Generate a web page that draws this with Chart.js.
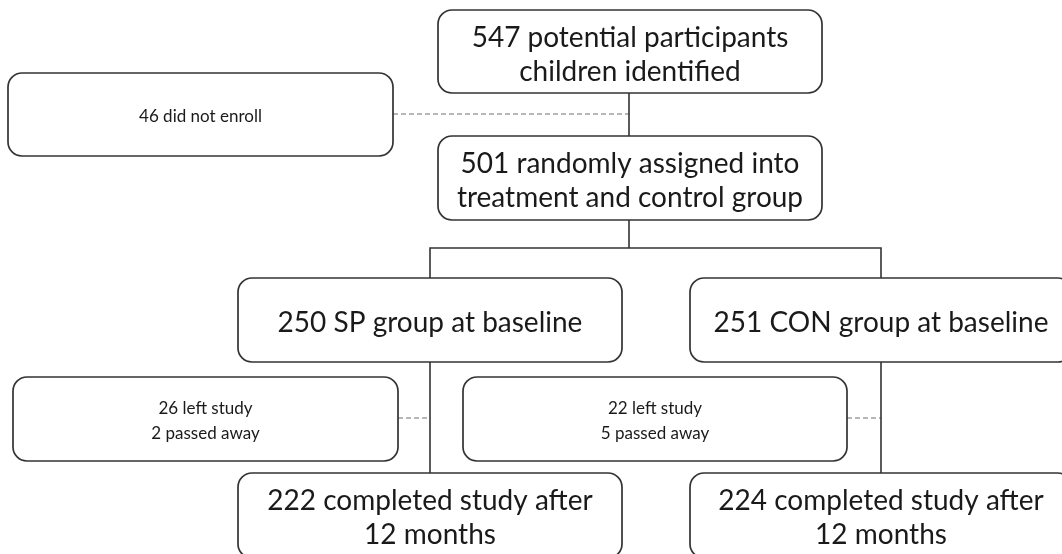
<!DOCTYPE html>
<html>
<head>
<meta charset="utf-8">
<script src="https://cdn.jsdelivr.net/npm/chart.js@4"></script>
<style>
html,body{margin:0;padding:0;background:#fff;}
canvas{display:block;}
</style>
</head>
<body>
<canvas id="c" width="1062" height="554"></canvas>
<script>
// ---- data ----
const stageCounts = [547, 46, 501, 250, 251, 26, 22, 222, 224];
const secondaryCounts = [null, null, null, null, null, 2, 5, null, null];
const boxLines = [
  ["547 potential participants", "children identified"],
  ["46 did not enroll"],
  ["501 randomly assigned into", "treatment and control group"],
  ["250 SP group at baseline"],
  ["251 CON group at baseline"],
  ["26 left study", "2 passed away"],
  ["22 left study", "5 passed away"],
  ["222 completed study after", "12 months"],
  ["224 completed study after", "12 months"]
];
const boxKind = ["main","side","main","main","main","side","side","main","main"];

// ---- layout (diagram coordinates, axis units) ----
const boxRects = [
  [438, 10, 822, 93],
  [8, 73, 393, 156],
  [438, 136, 822, 220],
  [238, 278, 622, 362],
  [690, 278, 1072, 362],
  [13, 377, 398, 461],
  [463, 377, 847, 461],
  [238, 473, 622, 558],
  [690, 473, 1072, 558]
];
const solidLinks = [
  [[629,93],[629,136]],
  [[629,220],[629,248]],
  [[430,278],[430,248],[881,248],[881,278]],
  [[430,362],[430,473]],
  [[881,362],[881,473]]
];
const dashedLinks = [
  [[393,114],[629,114]],
  [[398,418],[430,418]],
  [[847,418],[881,418]]
];

const datasets = [];
solidLinks.forEach(pts => datasets.push({
  type:'line', data: pts.map(p=>({x:p[0], y:p[1]})),
  borderColor:'#333333', borderWidth:1.6, pointRadius:0, fill:false, tension:0
}));
dashedLinks.forEach(pts => datasets.push({
  type:'line', data: pts.map(p=>({x:p[0], y:p[1]})),
  borderColor:'#6f6f6f', borderWidth:1.2, borderDash:[5,3], pointRadius:0, fill:false, tension:0
}));

const boxPlugin = {
  id:'boxes',
  afterDatasetsDraw(chart){
    const ctx = chart.ctx, xs = chart.scales.x, ys = chart.scales.y;
    ctx.save();
    boxRects.forEach((r, i) => {
      const x0 = xs.getPixelForValue(r[0]), x1 = xs.getPixelForValue(r[2]);
      const y0 = ys.getPixelForValue(r[1]), y1 = ys.getPixelForValue(r[3]);
      ctx.beginPath();
      ctx.roundRect(x0, y0, x1-x0, y1-y0, 14);
      ctx.fillStyle = '#ffffff';
      ctx.fill();
      ctx.lineWidth = 1.7;
      ctx.strokeStyle = '#333333';
      ctx.stroke();
      const lines = boxLines[i];
      const main = boxKind[i] === 'main';
      ctx.font = main ? '28px Lato' : '17px Lato';
      ctx.fillStyle = '#1a1a1a';
      ctx.textAlign = 'center';
      ctx.textBaseline = 'middle';
      const lh = main ? 34 : 25;
      const cx = (x0 + x1) / 2;
      let cy = (y0 + y1) / 2 + (main ? 3 : 2);
      if (i >= 7) cy = y0 + 45;
      const start = cy - (lines.length - 1) * lh / 2;
      lines.forEach((t, k) => ctx.fillText(t, cx, start + k * lh));
    });
    ctx.restore();
  }
};

new Chart(document.getElementById('c'), {
  type:'scatter',
  data:{ datasets },
  options:{
    responsive:false,
    animation:false,
    devicePixelRatio:1,
    layout:{padding:0},
    plugins:{legend:{display:false}, tooltip:{enabled:false}},
    scales:{
      x:{type:'linear', min:0, max:1062, display:false},
      y:{type:'linear', min:0, max:554, reverse:true, display:false}
    }
  },
  plugins:[boxPlugin]
});
</script>
</body>
</html>
